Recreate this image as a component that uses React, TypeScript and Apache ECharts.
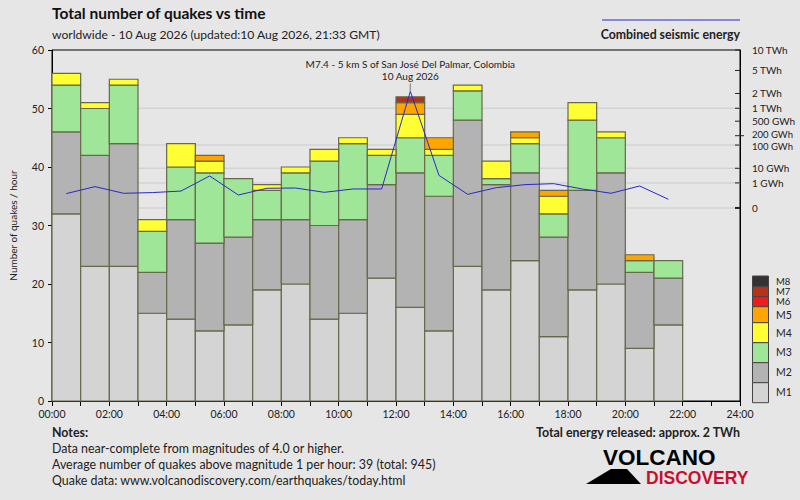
import React, { useEffect, useRef } from "react";
import * as echarts from "echarts";

// ---- data ----
const hours = [0, 1, 2, 3, 4, 5, 6, 7, 8, 9, 10, 11, 12, 13, 14, 15, 16, 17, 18, 19, 20, 21];
const magNames = ["M1", "M2", "M3", "M4", "M5", "M6", "M7", "M8"];
const M1 = [32, 23, 23, 15, 14, 12, 13, 19, 20, 14, 15, 21, 16, 12, 23, 19, 24, 11, 19, 20, 9, 13];
const M2 = [14, 19, 21, 7, 17, 15, 15, 12, 11, 16, 16, 16, 23, 23, 25, 18, 15, 17, 17, 19, 13, 8];
const M3 = [8, 8, 10, 7, 9, 12, 10, 5, 8, 11, 13, 5, 6, 7, 5, 1, 5, 4, 12, 6, 2, 3];
const M4 = [2, 1, 1, 2, 4, 2, 0, 1, 1, 2, 1, 1, 4, 1, 1, 3, 1, 3, 3, 1, 0, 0];
const M5 = [0, 0, 0, 0, 0, 1, 0, 0, 0, 0, 0, 0, 2, 2, 0, 0, 1, 1, 0, 0, 1, 0];
const M6 = [0, 0, 0, 0, 0, 0, 0, 0, 0, 0, 0, 0, 0, 0, 0, 0, 0, 0, 0, 0, 0, 0];
const M7 = [0, 0, 0, 0, 0, 0, 0, 0, 0, 0, 0, 0, 1, 0, 0, 0, 0, 0, 0, 0, 0, 0];
const M8 = [0, 0, 0, 0, 0, 0, 0, 0, 0, 0, 0, 0, 0, 0, 0, 0, 0, 0, 0, 0, 0, 0];
// combined seismic energy per hour, in GWh
const energyGWh = [0.062, 0.45, 0.069, 0.087, 0.14, 3.4, 0.037, 0.3, 0.32, 0.095, 0.25, 0.25, 2190, 3.7, 0.048, 0.35, 0.7, 0.86, 0.25, 0.069, 0.52, 0.005];
// right axis ticks (GWh) and labels
const energyTicks = [0, 1, 10, 100, 200, 500, 1000, 2000, 5000, 10000];
const energyTickLabels = ["0", "1 GWh", "10 GWh", "100 GWh", "200 GWh", "500 GWh", "1 TWh", "2 TWh", "5 TWh", "10 TWh"];
const energyGridTicks = [0, 1, 10, 100, 1000];
const xTickLabels = ["00:00", "02:00", "04:00", "06:00", "08:00", "10:00", "12:00", "14:00", "16:00", "18:00", "20:00", "22:00", "24:00"];
const quakeLabel = ["M7.4 - 5 km S of San José Del Palmar, Colombia", "10 Aug 2026"];

const magColors = ["#d4d4d4", "#b3b3b3", "#a0e698", "#ffff33", "#ffa500", "#ee1c1c", "#b5331a", "#333333"];
const FONT = "Lato, 'Open Sans', sans-serif";
const TXT = "#222";

const tOf = (e: number) => Math.pow(e / 10000, 0.2);

export default function App() {
  const ref = useRef<HTMLDivElement>(null);
  useEffect(() => {
    const chart = echarts.init(ref.current!, null, { renderer: "svg" });
    const mags = [M1, M2, M3, M4, M5, M6, M7, M8];

    const magSeries = mags.map((arr, i) => {
      const data = hours
        .map((h, j) => {
          let base = 0;
          for (let k = 0; k < i; k++) base += mags[k][j];
          return [h, base, base + arr[j]];
        })
        .filter((d) => d[2] > d[1]);
      return {
        type: "custom",
        name: magNames[i],
        xAxisIndex: 0,
        yAxisIndex: 0,
        z: 2,
        data,
        encode: { x: 0, y: [1, 2] },
        renderItem: (params: any, api: any) => {
          const h = api.value(0);
          const b = api.value(1);
          const t = api.value(2);
          const p0 = api.coord([h, b]);
          const p1 = api.coord([h + 1, t]);
          return {
            type: "rect",
            shape: { x: p0[0], y: p1[1], width: p1[0] - p0[0], height: p0[1] - p1[1] },
            style: { fill: magColors[i], stroke: "#68684c", lineWidth: 1.2 },
          };
        },
      };
    });

    const gridSeries = {
      type: "custom",
      xAxisIndex: 0,
      yAxisIndex: 1,
      z: 1,
      silent: true,
      data: energyGridTicks.map((e) => [0, tOf(e)]),
      encode: { x: 0, y: 1 },
      renderItem: (params: any, api: any) => {
        const a = api.coord([0, api.value(1)]);
        const b = api.coord([24, api.value(1)]);
        return {
          type: "line",
          shape: { x1: a[0], y1: a[1], x2: b[0], y2: b[1] },
          style: { stroke: "#d3d3d3", lineWidth: 1.5 },
        };
      },
    };

    const tickSeries = {
      type: "custom",
      xAxisIndex: 0,
      yAxisIndex: 1,
      z: 5,
      silent: true,
      data: energyTicks.map((e) => [24, tOf(e)]),
      encode: { x: 0, y: 1 },
      renderItem: (params: any, api: any) => {
        const p = api.coord([24, api.value(1)]);
        const idx = params.dataIndex;
        const e = energyTicks[idx];
        const nudge = e === 200 ? -1.5 : e === 100 ? 1 : 0;
        return {
          type: "group",
          children: [
            {
              type: "line",
              shape: { x1: p[0] - 5, y1: p[1], x2: p[0] + (e === 200 ? 4 : 0), y2: p[1] },
              style: { stroke: "#222", lineWidth: e === 0 ? 2 : 1 },
            },
            {
              type: "text",
              x: p[0] + 12,
              y: p[1] + nudge,
              style: {
                text: energyTickLabels[idx],
                fill: TXT,
                fontSize: e === 200 || e === 100 ? 9.5 : 10,
                lineHeight: 9,
                fontFamily: FONT,
                align: "left",
                verticalAlign: "middle",
                textAlign: "left",
                textVerticalAlign: "middle",
              },
            },
          ],
        };
      },
    };

    const peakIdx = energyGWh.indexOf(Math.max(...energyGWh));
    const annotSeries = {
      type: "custom",
      xAxisIndex: 0,
      yAxisIndex: 1,
      z: 6,
      silent: true,
      data: [[hours[peakIdx] + 0.5, tOf(energyGWh[peakIdx])]],
      encode: { x: 0, y: 1 },
      renderItem: (params: any, api: any) => {
        const p = api.coord([api.value(0), api.value(1)]);
        const txt = (s: string, dy: number) => ({
          type: "text",
          x: p[0],
          y: p[1] + dy,
          style: {
            text: s,
            fill: TXT,
            fontSize: 10,
            fontFamily: FONT,
            align: "center",
            verticalAlign: "middle",
            textAlign: "center",
            textVerticalAlign: "middle",
          },
        });
        return {
          type: "group",
          children: [
            { type: "line", shape: { x1: p[0], y1: p[1] - 8, x2: p[0], y2: p[1] }, style: { stroke: "#999", lineWidth: 1.5 } },
            txt(quakeLabel[0], -27.5),
            txt(quakeLabel[1], -15.7),
          ],
        };
      },
    };

    const lineSeries = {
      type: "line",
      name: "Combined seismic energy",
      xAxisIndex: 0,
      yAxisIndex: 1,
      z: 4,
      showSymbol: false,
      symbol: "none",
      data: hours.map((h, j) => [h + 0.5, tOf(energyGWh[j])]),
      lineStyle: { color: "#2828c8", width: 1 },
    };

    // legend boxes (layout)
    const legendBoxes = [
      { y0: 276, y1: 286.7, ty: 281.5, fs: 9.5 },
      { y0: 286.7, y1: 296.7, ty: 291.7, fs: 9.5 },
      { y0: 296.7, y1: 306.7, ty: 301.8, fs: 9.5 },
      { y0: 306.7, y1: 322.7, ty: 315, fs: 10.5 },
      { y0: 322.7, y1: 342.7, ty: 332.5, fs: 10.5 },
      { y0: 342.7, y1: 362.7, ty: 352, fs: 10.5 },
      { y0: 362.7, y1: 382.7, ty: 372, fs: 10.5 },
      { y0: 382.7, y1: 402.7, ty: 392.3, fs: 10.5 },
    ];
    const legendEls: any[] = [];
    legendBoxes.forEach((b, k) => {
      const mi = 7 - k;
      legendEls.push({
        type: "rect",
        shape: { x: 752.5, y: b.y0, width: 16, height: b.y1 - b.y0 },
        style: { fill: magColors[mi], stroke: "#444", lineWidth: 1 },
      });
      legendEls.push({
        type: "text",
        x: 776,
        y: b.ty,
        style: { text: magNames[mi], fill: TXT, fontSize: b.fs, lineHeight: 9, fontFamily: FONT, textVerticalAlign: "middle", verticalAlign: "middle" },
      });
    });

    const txt = (text: string, x: number, y: number, size: number, bold = false, align = "left", fill = TXT) => ({
      type: "text",
      x,
      y,
      style: {
        text,
        fill,
        fontSize: size,
        fontWeight: bold ? "bold" : "normal",
        fontFamily: FONT,
        textAlign: align,
        align,
        textVerticalAlign: "middle",
        verticalAlign: "middle",
      },
    });

    chart.setOption({
      animation: false,
      backgroundColor: "#e6e6e6",
      textStyle: { fontFamily: FONT },
      grid: { left: 52, right: 60, top: 50, bottom: 99, show: true, borderColor: "#000", borderWidth: 1, backgroundColor: "transparent" },
      xAxis: {
        type: "value",
        min: 0,
        max: 24,
        interval: 1,
        axisLine: { lineStyle: { color: "#000" } },
        axisTick: { length: 5, lineStyle: { color: "#000" } },
        splitLine: { show: false },
        axisLabel: {
          color: TXT,
          fontSize: 10.5,
          fontFamily: FONT,
          margin: 7,
          formatter: (v: number) => (v % 2 === 0 ? xTickLabels[v / 2] : ""),
        },
      },
      yAxis: [
        {
          type: "value",
          min: 0,
          max: 60,
          interval: 10,
          name: "Number of quakes / hour",
          nameLocation: "middle",
          nameGap: 34,
          nameTextStyle: { color: TXT, fontSize: 10, fontFamily: FONT },
          axisLine: { show: true, lineStyle: { color: "#000" } },
          axisTick: { show: true, length: 4, lineStyle: { color: "#000" } },
          splitLine: { show: false },
          axisLabel: { color: TXT, fontSize: 10.5, fontFamily: FONT, margin: 8 },
        },
        {
          type: "value",
          min: -11 / 9,
          max: 1,
          position: "right",
          axisLine: { show: true, lineStyle: { color: "#000" } },
          axisTick: { show: false },
          axisLabel: { show: false },
          splitLine: { show: false },
        },
      ],
      graphic: [
        txt("Total number of quakes vs time", 52, 13, 15.5, true, "left", "#111"),
        txt("worldwide - 10 Aug 2026 (updated:10 Aug 2026, 21:33 GMT)", 52, 34, 12.1),
        { type: "line", shape: { x1: 602, y1: 20, x2: 740, y2: 20 }, style: { stroke: "#2828c8", lineWidth: 1 } },
        txt("Combined seismic energy", 740, 34, 12.3, true, "right"),
        txt("Notes:", 52, 432, 12.4, true),
        txt("Data near-complete from magnitudes of 4.0 or higher.", 52, 448, 12.4),
        txt("Average number of quakes above magnitude 1 per hour: 39 (total: 945)", 52, 464, 12.4),
        txt("Quake data: www.volcanodiscovery.com/earthquakes/today.html", 52, 480, 12.4),
        txt("Total energy released: approx. 2 TWh", 740, 432, 12.4, true, "right"),
        {
          type: "polygon",
          shape: { points: [[586, 484], [611, 469], [627, 469], [641, 484]] },
          style: { fill: "#000" },
        },
        {
          type: "text",
          x: 603,
          y: 457.5,
          style: { text: "VOLCANO", fill: "#000", fontSize: 22.5, lineHeight: 17, fontWeight: "bold", fontFamily: "'Liberation Sans', Arial, sans-serif", textVerticalAlign: "middle", verticalAlign: "middle" },
        },
        {
          type: "text",
          x: 646,
          y: 478,
          style: { text: "DISCOVERY", fill: "#c8102e", fontSize: 17.5, lineHeight: 13, fontWeight: "bold", fontFamily: "'Liberation Sans', Arial, sans-serif", textVerticalAlign: "middle", verticalAlign: "middle" },
        },
        ...legendEls,
      ],
      series: [gridSeries, ...magSeries, lineSeries, tickSeries, annotSeries],
    });
    return () => chart.dispose();
  }, []);
  return <div ref={ref} style={{ position: "fixed", left: 0, top: 0, width: 800, height: 500 }} />;
}
